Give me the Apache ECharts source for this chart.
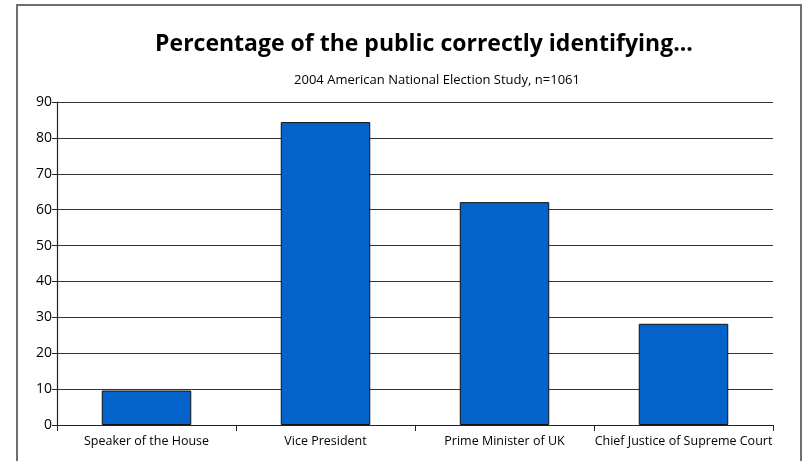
<!DOCTYPE html>
<html><head><meta charset="utf-8">
<script src="https://cdn.jsdelivr.net/npm/echarts@6/dist/echarts.min.js"></script>
<style>html,body{margin:0;padding:0;background:#fff}#c{width:806px;height:461px}</style>
</head><body><div id="c"></div>
<script>
const categories = ["Speaker of the House", "Vice President", "Prime Minister of UK", "Chief Justice of Supreme Court"];
const values = [9.6, 84.4, 62.1, 28.2];
const titleText = "Percentage of the public correctly identifying...";
const subtitleText = "2004 American National Election Study, n=1061";
const yMin = 0, yMax = 90, yStep = 10;

const chart = echarts.init(document.getElementById('c'), null, {renderer: 'canvas'});
chart.setOption({
  animation: false,
  backgroundColor: '#fff',
  graphic: [{
    type: 'rect', shape: {x: 17, y: 5, width: 784, height: 470},
    style: {fill: 'none', stroke: '#6e6e6e', lineWidth: 2}, silent: true
  }],
  title: [{
    text: titleText, left: 419, top: 28, textAlign: 'center',
    textStyle: {fontFamily: 'Open Sans', fontWeight: 'bold', fontSize: 23, color: '#000'}
  }, {
    text: subtitleText, left: 432, top: 69, textAlign: 'center',
    textStyle: {fontFamily: 'Open Sans', fontWeight: 'normal', fontSize: 13, color: '#000'}
  }],
  grid: {left: 57, right: 33, top: 102, bottom: 36, containLabel: false},
  xAxis: {
    type: 'category', data: categories,
    axisLine: {lineStyle: {color: '#222', width: 1.2}},
    axisTick: {show: true, length: 6, lineStyle: {color: '#222'}},
    axisLabel: {interval: 0, color: '#000', fontFamily: 'Open Sans', fontSize: 12.5, margin: 10}
  },
  yAxis: {
    type: 'value', min: yMin, max: yMax, interval: yStep,
    axisLine: {show: true, lineStyle: {color: '#222', width: 1.2}},
    axisTick: {show: true, length: 5, lineStyle: {color: '#222'}},
    axisLabel: {color: '#000', fontFamily: 'Open Sans', fontSize: 14, margin: 5},
    splitLine: {show: true, lineStyle: {color: '#333', width: 1.2}}
  },
  series: [{
    type: 'bar', data: values, barWidth: '50%',
    itemStyle: {color: '#0363cb', borderColor: '#111', borderWidth: 1}
  }]
});
</script></body></html>
